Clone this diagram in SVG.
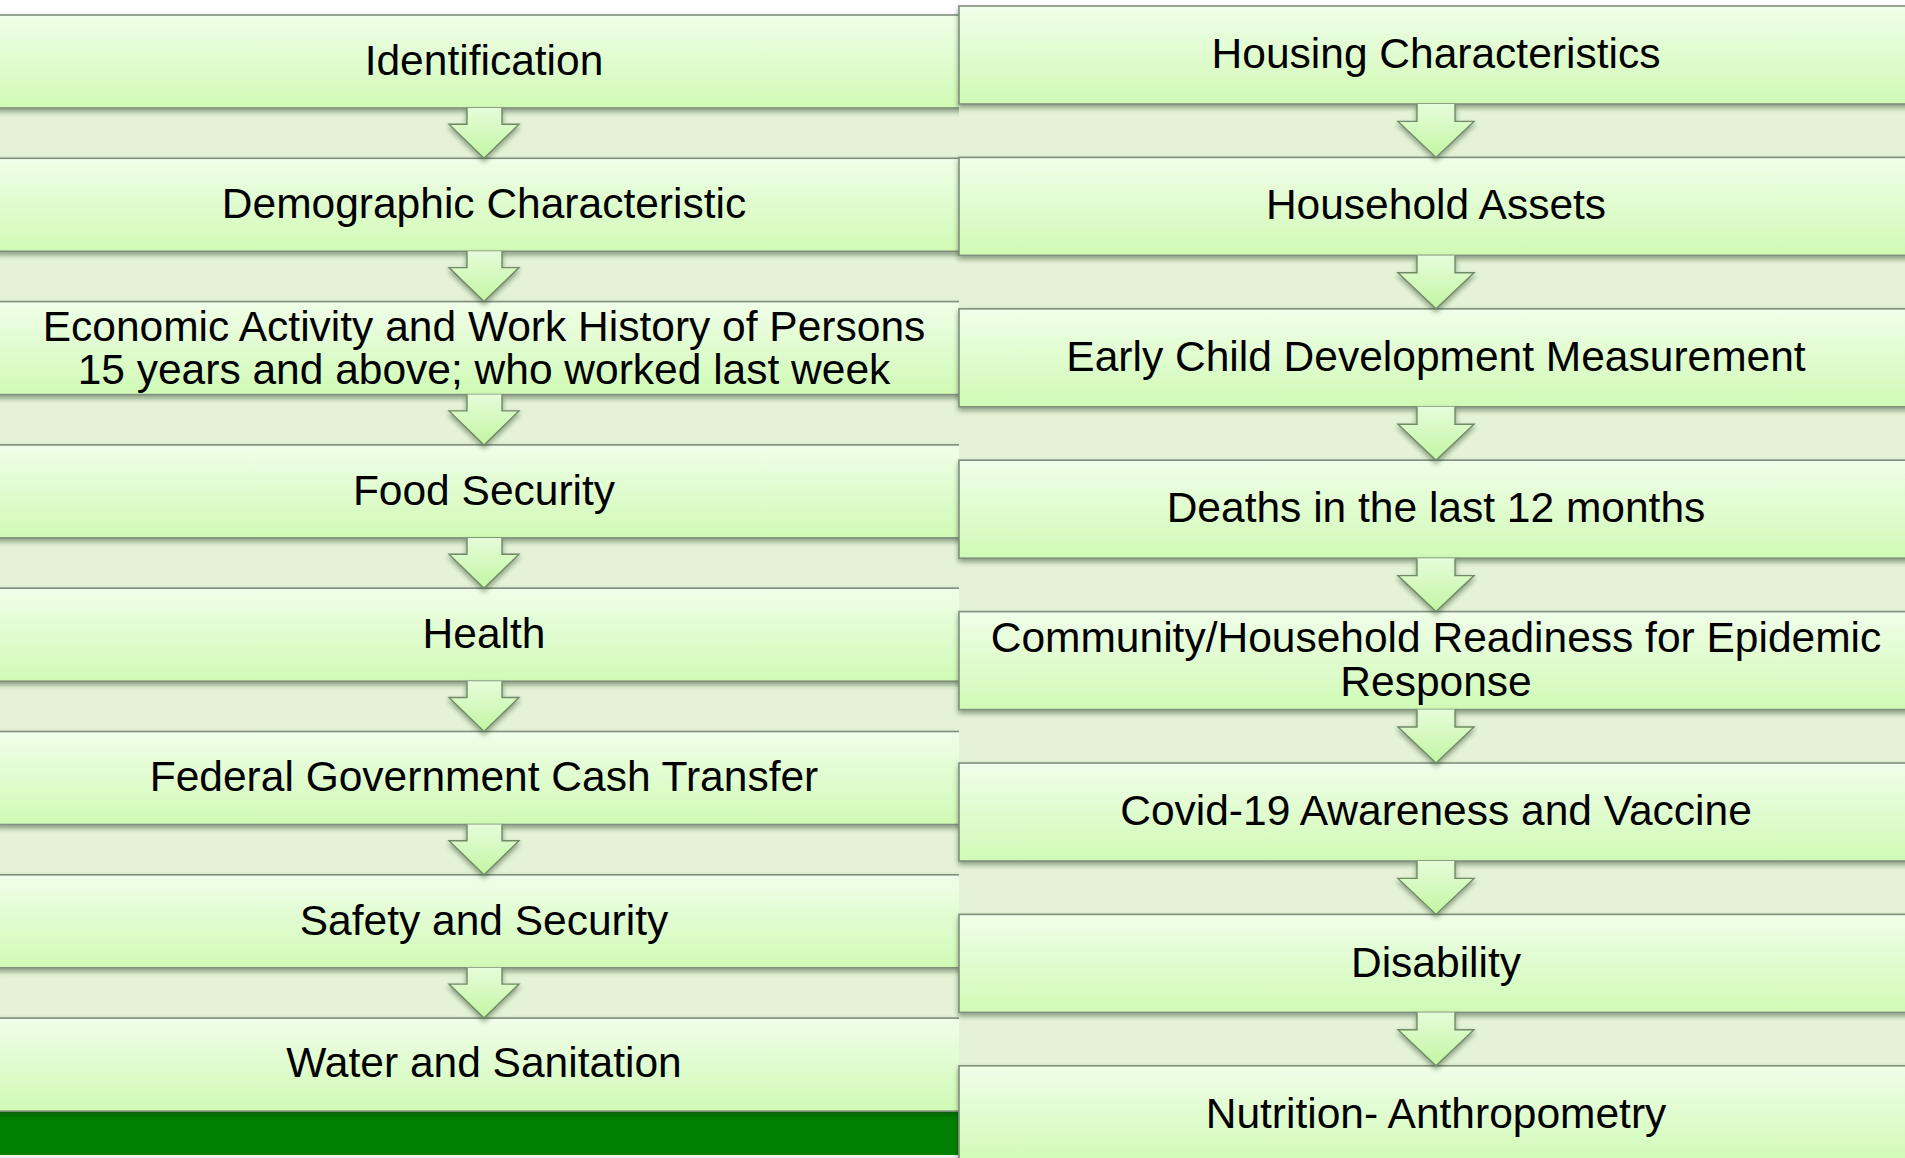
<svg xmlns="http://www.w3.org/2000/svg" width="1905" height="1158" viewBox="0 0 1905 1158">
<defs>
<linearGradient id="boxg" x1="0" y1="0" x2="0" y2="1">
<stop offset="0" stop-color="#f0fee9"/>
<stop offset="1" stop-color="#d0fab5"/>
</linearGradient>
<linearGradient id="arrg" x1="0" y1="0" x2="0" y2="1">
<stop offset="0" stop-color="#e6fcda"/>
<stop offset="1" stop-color="#c2f6a2"/>
</linearGradient>
<filter id="sh" x="-5%" y="-20%" width="110%" height="150%">
<feDropShadow dx="0" dy="3" stdDeviation="2.5" flood-color="#1c3214" flood-opacity="0.45"/>
</filter>
</defs>
<style>
.box{fill:url(#boxg);stroke:#7f8f7c;stroke-width:1.6;filter:url(#sh)}
.arr{fill:url(#arrg);stroke:#6f8a66;stroke-width:1.4;stroke-linejoin:miter;filter:url(#sh)}
.t{font-family:"Liberation Sans",Arial,sans-serif;font-size:42.5px;fill:#000;text-anchor:middle}
</style>
<rect x="0" y="0" width="1905" height="1158" fill="#ffffff"/>
<rect x="0" y="15" width="1905" height="1143" fill="#e4f2d6"/>
<rect x="0" y="1111" width="960" height="44" fill="#007f00"/>
<rect x="0" y="1155" width="960" height="3" fill="#eef0ee"/>

<g id="left-nodes">
<g id="n-identification"><rect class="box" x="-3" y="15" width="973" height="93"/><text class="t" x="484" y="75">Identification</text></g>
<g id="n-demographic"><rect class="box" x="-3" y="158.3" width="973" height="93"/><text class="t" x="484" y="218">Demographic Characteristic</text></g>
<g id="n-economic"><rect class="box" x="-3" y="301.6" width="973" height="93"/><text class="t" x="484" y="341">Economic Activity and Work History of Persons</text><text class="t" x="484" y="384">15 years and above; who worked last week</text></g>
<g id="n-food"><rect class="box" x="-3" y="444.9" width="973" height="93"/><text class="t" x="484" y="505">Food Security</text></g>
<g id="n-health"><rect class="box" x="-3" y="588.2" width="973" height="93"/><text class="t" x="484" y="648">Health</text></g>
<g id="n-cash"><rect class="box" x="-3" y="731.5" width="973" height="93"/><text class="t" x="484" y="791">Federal Government Cash Transfer</text></g>
<g id="n-safety"><rect class="box" x="-3" y="874.8" width="973" height="93"/><text class="t" x="484" y="934.5">Safety and Security</text></g>
<g id="n-water"><rect class="box" x="-3" y="1018.1" width="973" height="93"/><text class="t" x="484" y="1077">Water and Sanitation</text></g>
</g>

<g id="connectors-left">
<path class="arr" d="M467,108 V124.3 H449 L484,158.3 L519,124.3 H502 V108"/>
<path class="arr" d="M467,251.3 V267.6 H449 L484,301.6 L519,267.6 H502 V251.3"/>
<path class="arr" d="M467,394.6 V410.9 H449 L484,444.9 L519,410.9 H502 V394.6"/>
<path class="arr" d="M467,537.9 V554.2 H449 L484,588.2 L519,554.2 H502 V537.9"/>
<path class="arr" d="M467,681.2 V697.5 H449 L484,731.5 L519,697.5 H502 V681.2"/>
<path class="arr" d="M467,824.5 V840.8 H449 L484,874.8 L519,840.8 H502 V824.5"/>
<path class="arr" d="M467,967.8 V984.1 H449 L484,1018.1 L519,984.1 H502 V967.8"/>
</g>

<rect x="959" y="6" width="946" height="1152" fill="#e4f2d6"/>

<g id="right-nodes">
<g id="n-housing"><rect class="box" x="959" y="6" width="960" height="98"/><text class="t" x="1436" y="68">Housing Characteristics</text></g>
<g id="n-assets"><rect class="box" x="959" y="157.4" width="960" height="98"/><text class="t" x="1436" y="219">Household Assets</text></g>
<g id="n-ecd"><rect class="box" x="959" y="308.8" width="960" height="98"/><text class="t" x="1436" y="371">Early Child Development Measurement</text></g>
<g id="n-deaths"><rect class="box" x="959" y="460.2" width="960" height="98"/><text class="t" x="1436" y="522">Deaths in the last 12 months</text></g>
<g id="n-community"><rect class="box" x="959" y="611.6" width="960" height="98"/><text class="t" x="1436" y="652">Community/Household Readiness for Epidemic</text><text class="t" x="1436" y="696">Response</text></g>
<g id="n-covid"><rect class="box" x="959" y="763" width="960" height="98"/><text class="t" x="1436" y="825">Covid-19 Awareness and Vaccine</text></g>
<g id="n-disability"><rect class="box" x="959" y="914.4" width="960" height="98"/><text class="t" x="1436" y="977">Disability</text></g>
<g id="n-nutrition"><rect class="box" x="959" y="1065.8" width="960" height="98"/><text class="t" x="1436" y="1128">Nutrition- Anthropometry</text></g>
</g>

<g id="connectors-right">
<path class="arr" d="M1417,104 V121.4 H1398 L1436,157.4 L1474,121.4 H1455 V104"/>
<path class="arr" d="M1417,255.4 V272.8 H1398 L1436,308.8 L1474,272.8 H1455 V255.4"/>
<path class="arr" d="M1417,406.8 V424.2 H1398 L1436,460.2 L1474,424.2 H1455 V406.8"/>
<path class="arr" d="M1417,558.2 V575.6 H1398 L1436,611.6 L1474,575.6 H1455 V558.2"/>
<path class="arr" d="M1417,709.6 V727 H1398 L1436,763 L1474,727 H1455 V709.6"/>
<path class="arr" d="M1417,861 V878.4 H1398 L1436,914.4 L1474,878.4 H1455 V861"/>
<path class="arr" d="M1417,1012.4 V1029.8 H1398 L1436,1065.8 L1474,1029.8 H1455 V1012.4"/>
</g>
</svg>
